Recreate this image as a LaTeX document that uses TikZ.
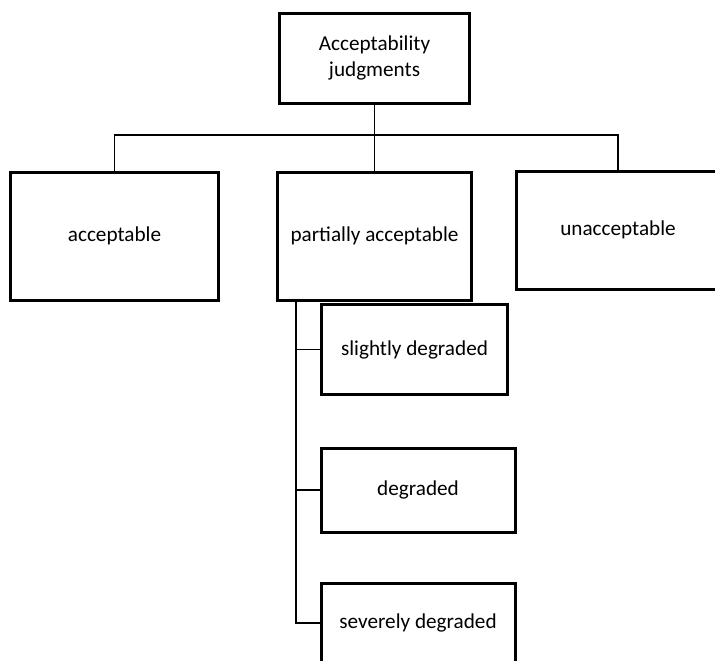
\documentclass[tikz,border=0pt]{standalone}
\usepackage{fontspec}
\setmainfont{Carlito}
\usepackage{tikz}
\usetikzlibrary{calc,positioning}

\tikzset{
  judgebox/.style={draw, line width=1.5pt, align=center, inner sep=2pt,
    font=\fontsize{10.6}{13}\selectfont},
  link/.style={line width=0.6pt}
}

\begin{document}
\begin{tikzpicture}[x=0.5pt, y=-0.5pt]
  \useasboundingbox (0,0) rectangle (715,660);

  % Root
  \node[judgebox, minimum width=95pt, minimum height=45pt] (root) at (374.5,58) {Acceptability\\judgments};

  % First level
  \node[judgebox, minimum width=104pt, minimum height=64pt] (acc) at (114.5,236) {acceptable};
  \node[judgebox, minimum width=97pt, minimum height=64pt] (part) at (374.5,236) {partially acceptable};
  \node[judgebox, minimum width=102pt, minimum height=59pt] (unacc) at (618,230) {unacceptable};

  % Second level under partially acceptable
  \node[judgebox, minimum width=93pt, minimum height=45pt] (slight) at (414.5,349.5) {slightly degraded};
  \node[judgebox, minimum width=97pt, minimum height=42pt] (degr) at (418,490) {degraded};
  \node[judgebox, minimum width=97pt, minimum height=40pt] (severe) at (418,623) {severely degraded};

  % Connectors
  \coordinate (bus) at (374.5,135);
  \draw[link] (root) -- (bus);
  \draw[link] (acc.north) |- (bus) -| (unacc.north);
  \draw[link] (bus) -- (part.north);

  \coordinate (spine) at ([xshift=10pt]part.south west);
  \draw[link] (spine) |- (severe.west);
  \draw[link] (slight.west) -- (slight.west -| spine);
  \draw[link] (degr.west) -- (degr.west -| spine);

\end{tikzpicture}
\end{document}
